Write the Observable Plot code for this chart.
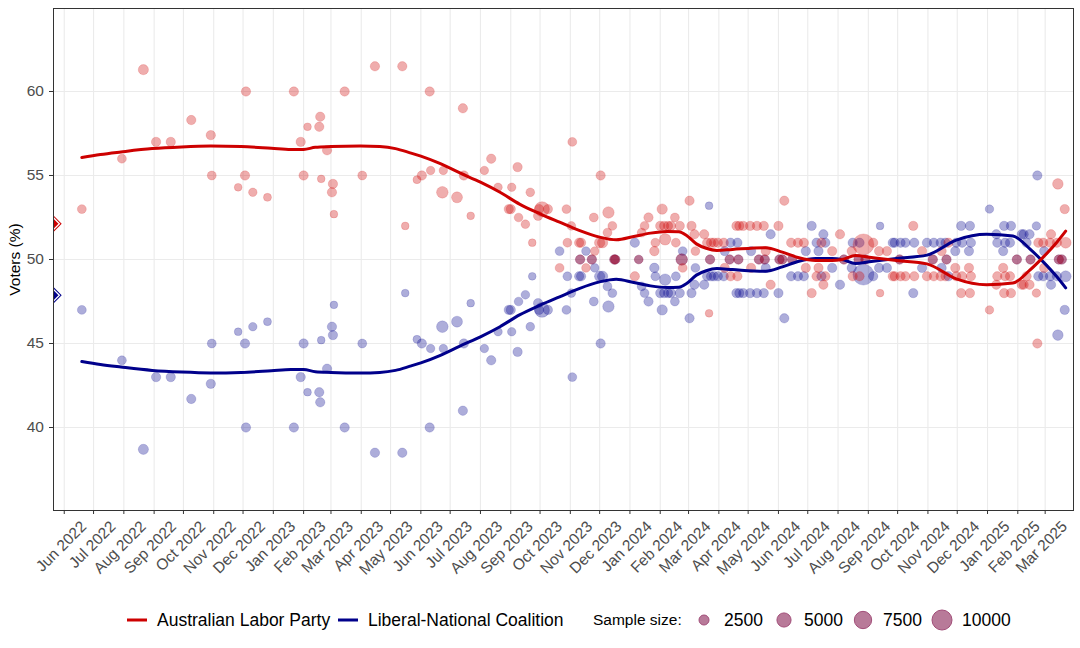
<!DOCTYPE html>
<html><head><meta charset="utf-8">
<script src="https://cdn.jsdelivr.net/npm/d3@7"></script>
<script src="https://cdn.jsdelivr.net/npm/@observablehq/plot@0.6"></script>
<style>
body{margin:0;background:#fff;font-family:"Liberation Sans",Arial,sans-serif;}
#wrap{width:1080px;height:648px;position:relative;overflow:hidden;background:#fff;}
#wrap svg{display:block;}
</style></head><body><div id="wrap"></div>
<script>
// ---------- DATA ----------
const partyNames = ["Australian Labor Party", "Liberal-National Coalition"];
const alpColor = "#CD0000";
const lnpColor = "#00008B";

const electionDate = "2022-05-21";
const electionAlp = 52.13;
const electionLnp = 47.87;

const dates2022 = ["2022-06-19","2022-07-30","2022-08-21","2022-09-03","2022-09-18","2022-10-09","2022-10-29","2022-10-30","2022-11-26","2022-12-03","2022-12-04","2022-12-11","2022-12-26"];
const alp2022 = [53,56,61.3,57,57,58.3,57.4,55,54.3,55,60,54,53.7];
const lnp2022 = [47,44,38.7,43,43,41.7,42.6,45,45.7,45,40,46,46.3];
const size2022 = [2000,2000,2600,2200,2200,2200,2200,2000,1500,2200,2200,1800,1600];

const dates2023a = ["2023-01-22","2023-01-29","2023-02-01","2023-02-05","2023-02-17","2023-02-18","2023-02-19","2023-02-25","2023-03-02","2023-03-03","2023-03-04","2023-03-15","2023-04-02","2023-04-15","2023-05-13","2023-05-16","2023-05-28","2023-06-02","2023-06-10","2023-06-11","2023-06-23","2023-06-24"];
const alp2023a = [60,57,55,57.9,57.9,58.5,54.8,56.5,54,54.5,52.7,60,55,61.5,61.5,52,54.75,55,60,55.3,54,55.3];
const lnp2023a = [40,43,45,42.1,42.1,41.5,45.2,43.5,46,45.5,47.3,40,45,38.5,38.5,48,45.25,45,40,44.7,46,44.7];
const size2023a = [2200,2200,2200,1500,2200,2200,1500,2200,2200,2200,1500,2200,2000,2200,2200,1500,1600,2200,2200,1800,3400,1800];

const dates2023b = ["2023-07-08","2023-07-14","2023-07-15","2023-07-22","2023-08-05","2023-08-12","2023-08-19","2023-08-30","2023-09-01","2023-09-02","2023-09-08","2023-09-09","2023-09-16","2023-09-21","2023-09-23","2023-09-29","2023-09-30","2023-10-03","2023-10-09","2023-10-21","2023-10-28","2023-10-29","2023-11-02","2023-11-03","2023-11-10","2023-11-11","2023-11-12","2023-11-17","2023-11-23","2023-11-25","2023-11-26","2023-12-01","2023-12-02","2023-12-04","2023-12-09","2023-12-10","2023-12-14","2023-12-16","2023-12-17"];
const alp2023b = [53.7,59,55,52.6,55.3,56,54.3,53,53,54.3,55.5,52.5,52.1,54,51,52.6,53,53,53,49.5,53,51,52,57,51,50,51,49.5,50,52.5,50.5,51,55,51,51.6,52.8,52,50,50];
const lnp2023b = [46.3,41,45,47.4,44.7,44,45.7,47,47,45.7,44.5,47.5,47.9,46,49,47.4,47,47,47,50.5,47,49,48,43,49,50,49,50.5,50,47.5,49.5,49,45,49,48.4,47.2,48,50,50];
const size2023b = [3000,2200,2200,1500,1800,2200,1800,2200,2200,1800,2200,1900,1900,1900,1500,2200,2200,5500,2200,2000,2000,2000,1900,2000,2200,2200,2200,1900,2200,2000,1900,2700,2200,2700,2000,3300,2000,2200,2200];

const dates2024a = ["2024-01-06","2024-01-10","2024-01-13","2024-01-16","2024-01-20","2024-01-26","2024-01-27","2024-02-01","2024-02-03","2024-02-05","2024-02-06","2024-02-09","2024-02-12","2024-02-16","2024-02-17","2024-02-21","2024-02-23","2024-02-24","2024-03-02","2024-03-04","2024-03-07","2024-03-08","2024-03-17","2024-03-20","2024-03-22","2024-03-23","2024-03-24","2024-03-27","2024-03-31","2024-04-06","2024-04-07","2024-04-12","2024-04-13","2024-04-19","2024-04-20","2024-04-21","2024-04-22","2024-04-26","2024-05-03","2024-05-04","2024-05-10","2024-05-12","2024-05-17","2024-05-18","2024-05-19","2024-05-24","2024-06-01","2024-06-02","2024-06-05","2024-06-07","2024-06-14","2024-06-15","2024-06-21","2024-06-27","2024-06-29"];
const alp2024a = [49,50,51.6,52,52.5,50.5,51,52,53,52,51.2,52,52,52.5,51,52,50,49.5,53.5,52,51.5,50.5,51.5,51,46.8,50,51,51,51,51,49.5,50,49,52,49,50,52,52,52,49.5,52,50,52,50,50.5,48.5,52,50,50,53.5,51,50,51,51,49.5];
const lnp2024a = [51,50,48.4,48,47.5,49.5,49,48,47,48,48.8,48,48,47.5,49,48,50,50.5,46.5,48,48.5,49.5,48.5,49,53.2,50,49,49,49,49,50.5,50,51,48,51,50,48,48,48,50.5,48,50,48,50,49.5,51.5,48,50,50,46.5,49,50,49,49,50.5];
const size2024a = [2200,1900,2000,2000,2200,2300,2000,2200,2700,2200,3300,2200,2200,2000,2000,2200,3300,2000,2200,2200,2200,2000,2200,2200,1500,2200,2200,2200,2200,2200,2200,2200,2200,2200,2200,2200,2200,2200,2200,2200,2200,2200,2200,2200,2200,2200,2200,2200,2200,2200,2200,2200,2200,2200,2200];

const dates2024b = ["2024-07-05","2024-07-10","2024-07-12","2024-07-15","2024-07-17","2024-07-19","2024-07-26","2024-08-03","2024-08-07","2024-08-15","2024-08-16","2024-08-22","2024-08-23","2024-08-27","2024-08-29","2024-09-06","2024-09-12","2024-09-13","2024-09-20","2024-09-26","2024-09-28","2024-10-03","2024-10-04","2024-10-09","2024-10-17","2024-10-18","2024-10-26","2024-10-31","2024-11-06","2024-11-07","2024-11-14","2024-11-15","2024-11-19","2024-11-20","2024-11-22","2024-11-29","2024-11-30","2024-12-05","2024-12-06","2024-12-13","2024-12-14","2024-12-15"];
const alp2024b = [48,49,49.5,51,48.5,49,50.5,51.5,50,50.5,49,50,49,50.9,50,51,50.5,48,50.5,49,49,50,49,49,52,49,50.5,49,50,49,49,50.5,49,50,51,49.5,49,48,49,49.5,48,49];
const lnp2024b = [52,51,50.5,49,51.5,51,49.5,48.5,50,49.5,51,50,51,49.1,50,49,49.5,52,49.5,51,51,50,51,51,48,51,49.5,51,50,51,51,49.5,51,50,49,50.5,51,52,51,50.5,52,51];
const size2024b = [2200,2200,2200,2200,2200,2200,2200,2200,2200,2200,2200,2200,2200,11000,2200,2200,2200,1500,2200,2200,2200,2200,2200,2200,2200,2200,2200,2200,2200,2200,2200,2200,2200,2200,2200,2200,2200,2200,2200,2200,2200,2200];

const dates2025 = ["2025-01-03","2025-01-10","2025-01-11","2025-01-17","2025-01-18","2025-01-19","2025-01-24","2025-01-25","2025-01-31","2025-02-05","2025-02-07","2025-02-10","2025-02-13","2025-02-14","2025-02-20","2025-02-21","2025-02-22","2025-02-27","2025-02-28","2025-03-06","2025-03-07","2025-03-13","2025-03-14","2025-03-15","2025-03-18","2025-03-21","2025-03-22"];
const alp2025 = [47,48.5,49,49.5,48,49,49,48,50,48.5,48.5,49,48.5,50,48,45,51,51,49.5,51,51.5,51,54.5,50,50,53,51];
const lnp2025 = [53,51.5,51,50.5,52,51,51,52,50,51.5,51.5,51,51.5,50,52,55,49,49,50.5,49,48.5,49,45.5,50,50,47,49];
const size2025 = [1800,2200,2200,2200,2200,2200,2200,2200,2200,2200,2200,2200,2200,2200,1800,2200,2200,2200,2200,2200,2200,2200,2800,2200,2200,2200,3000];

// smoothed trend
const trendDates = ["2022-06-19","2022-07-08","2022-07-29","2022-08-30","2022-09-29","2022-10-29","2022-11-29","2022-12-30","2023-01-19","2023-02-01","2023-02-13","2023-03-01","2023-03-31","2023-04-20","2023-05-06","2023-05-21","2023-06-01","2023-06-21","2023-07-11","2023-08-01","2023-08-21","2023-09-10","2023-10-01","2023-10-21","2023-11-10","2023-12-01","2023-12-18","2024-01-05","2024-01-22","2024-02-08","2024-02-20","2024-02-28","2024-03-09","2024-03-19","2024-03-30","2024-04-15","2024-05-19","2024-06-05","2024-06-22","2024-07-09","2024-07-26","2024-08-05","2024-08-19","2024-09-02","2024-09-30","2024-10-31","2024-11-30","2024-12-31","2025-01-27","2025-02-13","2025-02-27","2025-03-13","2025-03-22"];
const alpTrend = [56.07,56.25,56.4,56.6,56.7,56.75,56.72,56.62,56.55,56.55,56.68,56.72,56.75,56.72,56.6,56.35,56.15,55.7,55.15,54.6,54.0,53.3,52.72,52.22,51.73,51.33,51.17,51.37,51.57,51.67,51.65,51.43,50.93,50.67,50.54,50.6,50.7,50.44,50.1,49.94,49.94,50.0,50.24,50.14,49.94,49.74,48.85,48.5,48.6,49.35,50.14,51.03,51.69];
const lnpTrend = [43.93,43.75,43.6,43.4,43.3,43.25,43.28,43.38,43.45,43.45,43.32,43.28,43.25,43.28,43.4,43.65,43.85,44.3,44.85,45.4,46.0,46.7,47.28,47.78,48.27,48.67,48.83,48.63,48.43,48.33,48.35,48.57,49.07,49.33,49.46,49.4,49.3,49.56,49.9,50.06,50.06,50.0,49.76,49.86,50.06,50.26,51.15,51.5,51.4,50.65,49.86,48.97,48.31];

// axes
const monthTicks = ["2022-06-01","2022-07-01","2022-08-01","2022-09-01","2022-10-01","2022-11-01","2022-12-01","2023-01-01","2023-02-01","2023-03-01","2023-04-01","2023-05-01","2023-06-01","2023-07-01","2023-08-01","2023-09-01","2023-10-01","2023-11-01","2023-12-01","2024-01-01","2024-02-01","2024-03-01","2024-04-01","2024-05-01","2024-06-01","2024-07-01","2024-08-01","2024-09-01","2024-10-01","2024-11-01","2024-12-01","2025-01-01","2025-02-01","2025-03-01"];
const yTicks = [40,45,50,55,60];
const xStart = "2022-05-21", xEnd = "2025-03-30";
const yMin = 35.06, yMax = 64.94;
const sizeLegend = [2500,5000,7500,10000];
const yLabel = "Voters (%)";
const sizeTitle = "Sample size:";

// ---------- BUILD ----------
const parse = d3.utcParse("%Y-%m-%d");
function build(dates, shares, sizes) {
  return dates.map((d, i) => ({date: parse(d), share: shares[i], n: sizes[i]}));
}
const alpPolls = [].concat(
  build(dates2022, alp2022, size2022), build(dates2023a, alp2023a, size2023a),
  build(dates2023b, alp2023b, size2023b), build(dates2024a, alp2024a, size2024a),
  build(dates2024b, alp2024b, size2024b), build(dates2025, alp2025, size2025));
const lnpPolls = [].concat(
  build(dates2022, lnp2022, size2022), build(dates2023a, lnp2023a, size2023a),
  build(dates2023b, lnp2023b, size2023b), build(dates2024a, lnp2024a, size2024a),
  build(dates2024b, lnp2024b, size2024b), build(dates2025, lnp2025, size2025));
const alpLine = trendDates.map((d, i) => ({date: parse(d), v: alpTrend[i]}));
const lnpLine = trendDates.map((d, i) => ({date: parse(d), v: lnpTrend[i]}));
const alpElection = [{date: parse(electionDate), v: electionAlp}];
const lnpElection = [{date: parse(electionDate), v: electionLnp}];
const monthDates = monthTicks.map(parse);
const fmtMonth = d3.utcFormat("%b %Y");

const FONT = '"Liberation Sans", Arial, Helvetica, sans-serif';

const chart = Plot.plot({
  width: 1080, height: 580,
  marginLeft: 53, marginRight: 7, marginTop: 8, marginBottom: 70,
  style: {fontFamily: FONT, background: "white", overflow: "visible"},
  x: {type: "utc", domain: [parse(xStart), parse(xEnd)]},
  y: {domain: [yMin, yMax]},
  r: {type: "sqrt", domain: [0, 10000], range: [0, 10]},
  marks: [
    Plot.ruleX(monthDates, {stroke: "#ebebeb", strokeWidth: 1.1}),
    Plot.ruleY(yTicks, {stroke: "#ebebeb", strokeWidth: 1.1}),
    Plot.dot(lnpPolls, {x: "date", y: "share", r: "n", fill: lnpColor, fillOpacity: 0.32, stroke: lnpColor, strokeOpacity: 0.15, strokeWidth: 1, clip: true}),
    Plot.dot(alpPolls, {x: "date", y: "share", r: "n", fill: alpColor, fillOpacity: 0.32, stroke: alpColor, strokeOpacity: 0.15, strokeWidth: 1, clip: true}),
    Plot.line(lnpLine, {x: "date", y: "v", stroke: lnpColor, strokeWidth: 3, curve: "monotone-x", clip: true}),
    Plot.line(alpLine, {x: "date", y: "v", stroke: alpColor, strokeWidth: 3, curve: "monotone-x", clip: true}),
    Plot.dot(alpElection, {x: "date", y: "v", symbol: "diamond2", r: 7.4, fill: alpColor, stroke: "none", clip: true}),
    Plot.dot(alpElection, {x: "date", y: "v", symbol: "diamond2", r: 5.3, fill: alpColor, stroke: "white", strokeWidth: 1.3, clip: true}),
    Plot.dot(lnpElection, {x: "date", y: "v", symbol: "diamond2", r: 7.4, fill: lnpColor, stroke: "none", clip: true}),
    Plot.dot(lnpElection, {x: "date", y: "v", symbol: "diamond2", r: 5.3, fill: lnpColor, stroke: "white", strokeWidth: 1.3, clip: true}),
    Plot.frame({stroke: "#333", strokeWidth: 1}),
    Plot.axisY({ticks: yTicks, tickSize: 4, tickPadding: 5.5, fontSize: 15.5, stroke: "#333", fill: "#4d4d4d", label: null}),
    Plot.axisX({ticks: monthDates, tickSize: 4, fill: "none", stroke: "#333", label: null, tickFormat: () => ""}),
    Plot.text(monthDates, {x: d => d, text: d => fmtMonth(d), frameAnchor: "bottom", rotate: -45, textAnchor: "end", lineAnchor: "middle", dx: 19.5, dy: 13.5, fontSize: 15.5, fill: "#4d4d4d"}),
    Plot.text([yLabel], {frameAnchor: "left", dx: -38.5, rotate: -90, textAnchor: "middle", fontSize: 15.5, fill: "black"})
  ]
});
const wrap = document.getElementById("wrap");
wrap.appendChild(chart);

// ---------- LEGEND ----------
const leg = d3.select(wrap).append("svg").attr("width", 1080).attr("height", 68)
  .style("font-family", FONT);
const cy = 40;
const rLeg = d3.scaleSqrt().domain([0, 10000]).range([0, 10]);
leg.append("line").attr("x1", 127).attr("x2", 147).attr("y1", cy).attr("y2", cy).attr("stroke", alpColor).attr("stroke-width", 3);
leg.append("text").attr("x", 157).attr("y", cy).attr("dy", "0.35em").attr("font-size", 17.5).text(partyNames[0]);
leg.append("line").attr("x1", 338).attr("x2", 358).attr("y1", cy).attr("y2", cy).attr("stroke", lnpColor).attr("stroke-width", 3);
leg.append("text").attr("x", 368).attr("y", cy).attr("dy", "0.35em").attr("font-size", 17.5).text(partyNames[1]);
leg.append("text").attr("x", 593).attr("y", cy).attr("dy", "0.35em").attr("font-size", 15.5).text(sizeTitle);
const circX = [704, 784, 863, 942];
sizeLegend.forEach((n, i) => {
  leg.append("circle").attr("cx", circX[i]).attr("cy", cy).attr("r", rLeg(n))
    .attr("fill", "#b87a99").attr("stroke", "#a24e79").attr("stroke-width", 1);
  leg.append("text").attr("x", circX[i] + 20).attr("y", cy).attr("dy", "0.35em").attr("font-size", 17.5).text(String(n));
});
</script>
</body></html>
